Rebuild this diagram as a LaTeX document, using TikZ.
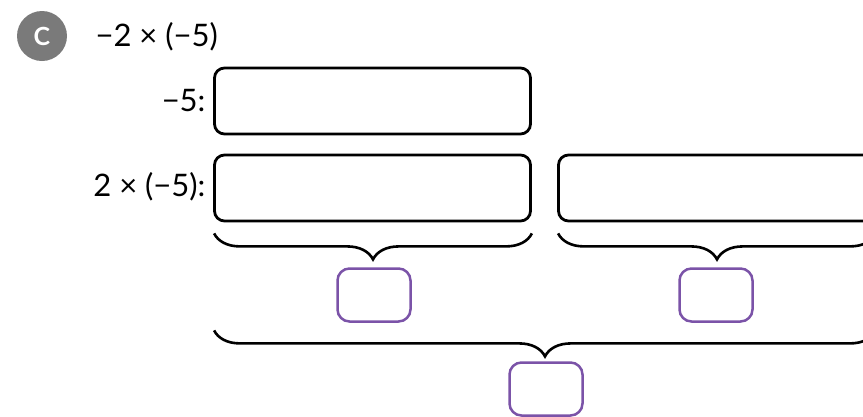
\documentclass[tikz,border=0pt]{standalone}
\usepackage{fontspec}
\setmainfont{Lato}
\usepackage{tikz}
\usetikzlibrary{positioning, decorations.pathreplacing}
\definecolor{BadgeGray}{RGB}{122,122,122}
\definecolor{AnsPurple}{RGB}{123,83,168}

\begin{document}
\begin{tikzpicture}[
  x=1pt, y=-1pt,
  font=\fontsize{31}{36}\selectfont,
  badge/.style={circle, fill=BadgeGray, text=white, minimum size=50pt, inner sep=0pt, font=\fontsize{25}{28}\selectfont\bfseries},
  bar/.style={draw, line width=2.8pt, rounded corners=10pt, minimum width=316pt, minimum height=66pt, inner sep=0pt},
  ans/.style={draw=AnsPurple, line width=2.5pt, rounded corners=12pt, minimum width=73pt, minimum height=53pt, inner sep=0pt},
  brace/.style={decorate, decoration={brace, mirror, amplitude=26pt}, line width=2.6pt}
]
  \useasboundingbox (0,0) rectangle (863,416);
  \clip (0,0) rectangle (863,416);

  % Heading
  \node[badge] (tag) at (42,36) {C};
  \node[anchor=west] (title) at (92,37) {−2 × (−5)};

  % Bars
  \node[bar] (b1) at (372.5,101) {};
  \node[bar] (b2) at (372.5,188) {};
  \node[bar] (b3) at (716.5,188) {};
  \node[anchor=east] (l1) at (209,101) {−5:};
  \node[anchor=east] (l2) at (209,187) {2 × (−5):};

  % Braces
  \draw[brace] ([xshift=1pt, yshift=-11pt]b2.south west) -- ([yshift=-11pt]b2.south east);
  \draw[brace] ([xshift=1pt, yshift=-11pt]b3.south west) -- ([yshift=-11pt]b3.south east);
  \draw[brace] ([xshift=1pt, yshift=-108pt]b2.south west) -- ([yshift=-108pt]b3.south east);

  % Answers
  \node[ans] (a1) at (374,295) {};
  \node[ans] (a2) at (716,295) {};
  \node[ans] (a3) at (546,389) {};
\end{tikzpicture}
\end{document}
